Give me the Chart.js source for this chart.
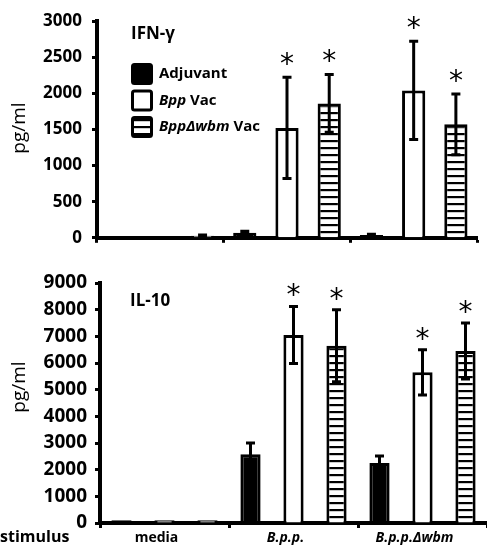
<!DOCTYPE html>
<html>
<head>
<meta charset="utf-8">
<script src="https://cdn.jsdelivr.net/npm/chart.js@4.4.1/dist/chart.umd.min.js"></script>
<style>
  html, body { margin: 0; padding: 0; background: #fff; }
  body { width: 487px; height: 548px; position: relative; overflow: hidden; }
  canvas { position: absolute; left: 0; display: block; }
  #c1 { top: 0; }
  #c2 { top: 250px; }
</style>
</head>
<body>
<canvas id="c1" width="487" height="258" style="width:487px;height:258px"></canvas>
<canvas id="c2" width="487" height="298" style="width:487px;height:298px"></canvas>
<script>
// ---- data ----
const stimuli = ['media', 'B.p.p.', 'B.p.p.Δwbm'];
const groups = ['Adjuvant', 'Bpp Vac', 'BppΔwbm Vac'];

const ifnAdjuvant = [5, 70, 40];
const ifnAdjuvantErr = [0, 20, 10];
const ifnBppVac = [5, 1520, 2040];
const ifnBppVacErr = [0, 700, 680];
const ifnWbmVac = [30, 1860, 1570];
const ifnWbmVacErr = [10, 400, 420];
const ifnSig = [[false, false, false], [false, true, true], [false, true, true]];
const ifnTicks = [0, 500, 1000, 1500, 2000, 2500, 3000];

const il10Adjuvant = [100, 2580, 2250];
const il10AdjuvantErr = [0, 420, 260];
const il10BppVac = [100, 7050, 5650];
const il10BppVacErr = [0, 1070, 850];
const il10WbmVac = [100, 6650, 6450];
const il10WbmVacErr = [0, 1350, 1050];
const il10Sig = [[false, false, false], [false, true, true], [false, true, true]];
const il10Ticks = [0, 1000, 2000, 3000, 4000, 5000, 6000, 7000, 8000, 9000];

// ---- hatch pattern ----
function hatch() {
  const c = document.createElement('canvas');
  c.width = 8; c.height = 7;
  const x = c.getContext('2d');
  x.fillStyle = '#fff'; x.fillRect(0, 0, 8, 7);
  x.fillStyle = '#000'; x.fillRect(0, 0, 8, 2.2);
  return x.createPattern(c, 'repeat');
}
const hatchPat = hatch();

const FONT = "'Open Sans', 'DejaVu Sans', sans-serif";

// legend label runs (italic parts)
const legendRuns = [
  [['Adjuvant', false]],
  [['Bpp', true], [' Vac', false]],
  [['BppΔwbm', true], [' Vac', false]]
];

const annotPlugin = {
  id: 'annot',
  afterDatasetsDraw(chart, args, opts) {
    const ctx = chart.ctx;
    const y = chart.scales.y;
    ctx.save();
    chart.data.datasets.forEach((ds, di) => {
      const meta = chart.getDatasetMeta(di);
      meta.data.forEach((bar, i) => {
        const v = ds.data[i], e = ds.err[i];
        if (e > 0) {
          const yt = y.getPixelForValue(v + e);
          const yb = y.getPixelForValue(Math.max(0, v - e));
          ctx.strokeStyle = '#000';
          ctx.lineWidth = 3;
          ctx.beginPath();
          ctx.moveTo(bar.x, yt); ctx.lineTo(bar.x, yb);
          ctx.moveTo(bar.x - 4.5, yt); ctx.lineTo(bar.x + 4.5, yt);
          ctx.moveTo(bar.x - 4.5, yb); ctx.lineTo(bar.x + 4.5, yb);
          ctx.stroke();
        }
        if (ds.sig[i]) {
          const yt = y.getPixelForValue(v + e);
          ctx.fillStyle = '#000';
          ctx.font = "28px 'DejaVu Sans', sans-serif";
          ctx.textAlign = 'center';
          ctx.textBaseline = 'alphabetic';
          ctx.fillText('*', bar.x, yt - opts.starGap);
        }
      });
    });
    ctx.fillStyle = '#000';
    ctx.textAlign = 'left';
    ctx.textBaseline = 'middle';
    ctx.font = 'bold 17px ' + FONT;
    ctx.fillText(opts.title, opts.titleX, opts.titleY);
    ctx.save();
    ctx.translate(opts.yTitleX, opts.yTitleY);
    ctx.rotate(-Math.PI / 2);
    ctx.textAlign = 'center';
    ctx.font = '19px ' + FONT;
    ctx.fillText('pg/ml', 0, 0);
    ctx.restore();
    if (opts.legend) {
      chart.data.datasets.forEach((ds, di) => {
        const bx = 131, by = 63 + di * 26.5, s = 22;
        ctx.beginPath();
        ctx.roundRect(bx + 1.5, by + 1.5, s - 3, s - 3, 2);
        ctx.fillStyle = ds.backgroundColor;
        ctx.fill();
        ctx.lineWidth = 3;
        ctx.strokeStyle = '#000';
        ctx.stroke();
        let tx = 159;
        ctx.fillStyle = '#000';
        ctx.textBaseline = 'middle';
        ctx.textAlign = 'left';
        legendRuns[di].forEach(([t, it]) => {
          ctx.font = (it ? 'italic ' : '') + 'bold 15px ' + FONT;
          ctx.fillText(t, tx, by + s / 2);
          tx += ctx.measureText(t).width;
        });
      });
    }
    if (opts.stimulus) {
      ctx.font = 'bold 16px ' + FONT;
      ctx.textAlign = 'left';
      ctx.fillText('stimulus', 0, opts.stimulusY);
    }
    ctx.restore();
  }
};

function makeChart(id, sets, ticks, ymax, o) {
  const datasets = [
    { label: groups[0], data: sets[0], err: sets[1], sig: o.sig.map(r => r[0]), backgroundColor: '#000' },
    { label: groups[1], data: sets[2], err: sets[3], sig: o.sig.map(r => r[1]), backgroundColor: '#fff' },
    { label: groups[2], data: sets[4], err: sets[5], sig: o.sig.map(r => r[2]), backgroundColor: hatchPat }
  ];
  datasets.forEach(d => { d.borderColor = '#000'; d.borderWidth = 3; d.borderSkipped = 'bottom'; });
  return new Chart(document.getElementById(id), {
    type: 'bar',
    data: { labels: stimuli, datasets },
    options: {
      responsive: false,
      animation: false,
      devicePixelRatio: 1,
      layout: { padding: o.padding },
      datasets: { bar: { categoryPercentage: 1, barPercentage: o.barPct } },
      plugins: { legend: { display: false }, tooltip: { enabled: false }, annot: o.annot },
      scales: {
        x: {
          grid: { display: true, drawOnChartArea: false, offset: true, drawTicks: true, tickLength: 5, tickWidth: 3, tickColor: '#000' },
          border: { display: true, color: '#000', width: 4 },
          ticks: {
            display: o.xLabels,
            color: '#000',
            padding: 2,
            labelOffset: -8,
            font: (c) => ({ family: FONT, size: 14, weight: 'bold', style: c.index > 0 ? 'italic' : 'normal' })
          },
          afterFit: (s) => { s.height = o.xHeight; }
        },
        y: {
          min: 0, max: ymax,
          afterBuildTicks: (s) => { s.ticks = ticks.map(v => ({ value: v })); },
          grid: { display: true, drawOnChartArea: false, drawTicks: true, tickLength: 5, tickWidth: 3, tickColor: '#000' },
          border: { display: true, color: '#000', width: 4 },
          ticks: { color: '#000', padding: o.yTickPad, callback: (v) => String(v), font: () => ({ family: FONT, size: o.yFont, weight: 'bold' }) },
          afterFit: (s) => { s.width = o.yWidth; }
        }
      }
    },
    plugins: [annotPlugin]
  });
}

makeChart('c1', [ifnAdjuvant, ifnAdjuvantErr, ifnBppVac, ifnBppVacErr, ifnWbmVac, ifnWbmVacErr], ifnTicks, 3000, {
  sig: ifnSig, barPct: 0.55, xLabels: false, xHeight: 12, yWidth: 97, yTickPad: 10, yFont: 17,
  padding: { top: 21, right: 10, left: 0, bottom: 0 },
  annot: { starGap: 4, title: 'IFN-γ', titleX: 131, titleY: 34, yTitleX: 20, yTitleY: 128, legend: true, stimulus: false }
});

makeChart('c2', [il10Adjuvant, il10AdjuvantErr, il10BppVac, il10BppVacErr, il10WbmVac, il10WbmVacErr], il10Ticks, 9000, {
  sig: il10Sig, barPct: 0.47, xLabels: true, xHeight: 25, yWidth: 100, yTickPad: 8, yFont: 19,
  padding: { top: 33, right: 0, left: 0, bottom: 0 },
  annot: { starGap: 2, title: 'IL-10', titleX: 130, titleY: 51, yTitleX: 20, yTitleY: 137, legend: false, stimulus: true, stimulusY: 287 }
});
</script>
</body>
</html>
